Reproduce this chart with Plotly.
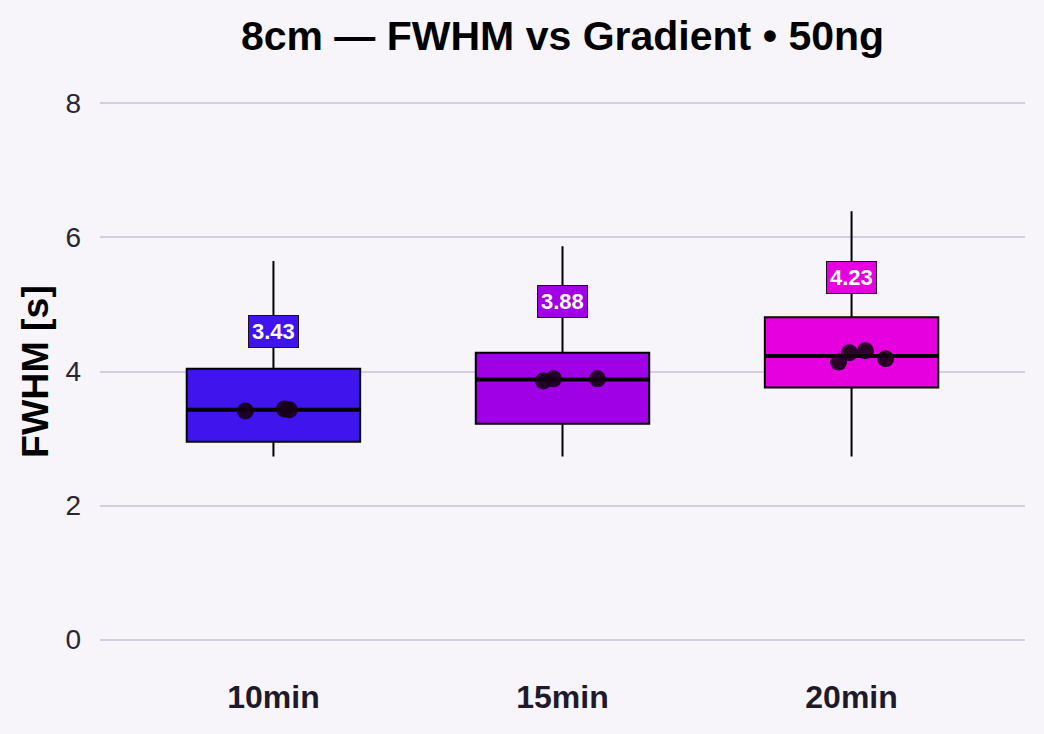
import plotly.graph_objects as go

categories = ["10min", "15min", "20min"]
q1 = [2.95, 3.22, 3.76]
medians = [3.43, 3.88, 4.23]
q3 = [4.04, 4.28, 4.81]
lower_fence = [2.73, 2.73, 2.73]
upper_fence = [5.65, 5.87, 6.39]
points = [
    [3.41, 3.44, 3.43],
    [3.86, 3.89, 3.89],
    [4.14, 4.28, 4.31, 4.19],
]
jitter = [
    [-0.097, 0.038, 0.055],
    [-0.066, -0.031, 0.121],
    [-0.045, -0.007, 0.048, 0.118],
]
colors = ["#4014ec", "#a000e6", "#e600e0"]

FONT = "Liberation Sans, Arial, sans-serif"
BOX_W = 0.6
LABEL_OFFSET = 1.17

fig = go.Figure()
for i, cat in enumerate(categories):
    fig.add_trace(go.Box(
        x=[i], q1=[q1[i]], median=[medians[i]], q3=[q3[i]],
        lowerfence=[lower_fence[i]], upperfence=[upper_fence[i]],
        width=BOX_W, fillcolor=colors[i], line=dict(color="#000000", width=2),
        whiskerwidth=0, boxpoints=False, name=cat, showlegend=False,
    ))
    fig.add_trace(go.Scatter(
        x=[i - BOX_W / 2, i + BOX_W / 2], y=[medians[i], medians[i]],
        mode="lines", line=dict(color="#000000", width=4),
        showlegend=False, hoverinfo="skip",
    ))
    fig.add_trace(go.Scatter(
        x=[i + j for j in jitter[i]], y=points[i], mode="markers",
        marker=dict(size=17, color="rgba(22,0,22,0.9)"),
        showlegend=False,
    ))
    fig.add_annotation(
        x=i, y=medians[i] + LABEL_OFFSET, text=f"<b>{medians[i]:.2f}</b>",
        showarrow=False, font=dict(family=FONT, size=22, color="white"),
        bgcolor=colors[i], bordercolor="#1a1020", borderwidth=1, borderpad=3,
        xanchor="center", yanchor="middle",
    )

fig.update_layout(
    width=1044, height=734,
    margin=dict(l=100, r=19, t=90, b=81),
    paper_bgcolor="#f7f5fa", plot_bgcolor="#f7f5fa",
    font=dict(family=FONT, color="#231e30"),
    title=dict(text="<b>8cm — FWHM vs Gradient • 50ng</b>", x=0.5, xref="paper",
               y=1 - 36 / 734, yref="container", yanchor="middle",
               font=dict(family=FONT, size=41, color="#000000")),
    showlegend=False,
)
fig.update_xaxes(
    range=[-0.6, 2.6], tickvals=[0, 1, 2],
    ticktext=[f"<b>{c}</b>" for c in categories],
    tickfont=dict(family=FONT, size=32, color="#1f1a2b"),
    showgrid=False, zeroline=False, showline=False, ticklabelstandoff=22,
)
fig.update_yaxes(
    range=[-0.2, 8.2], tickvals=[0, 2, 4, 6, 8],
    tickfont=dict(family=FONT, size=28, color="#2a2536"),
    showgrid=True, gridcolor="#d5cde0", gridwidth=2,
    zeroline=False, showline=False, ticklabelstandoff=18,
    title=dict(text="<b>FWHM [s]</b>", font=dict(family=FONT, size=37.5, color="#000000"), standoff=5),
)

fig.write_html("out.html", config={"displayModeBar": False},
               post_script="document.body.style.margin='0';")
